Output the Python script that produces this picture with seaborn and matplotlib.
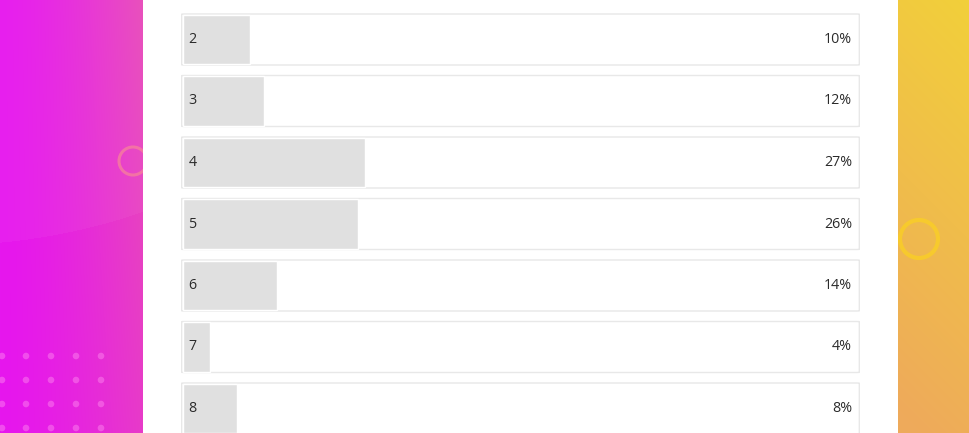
import numpy as np
import pandas as pd
import matplotlib
matplotlib.use("Agg")
import matplotlib.pyplot as plt
import seaborn as sns
from matplotlib.patches import FancyBboxPatch, Circle
from matplotlib.colors import to_rgb
import matplotlib.transforms as mtransforms

# ---- data ----
categories = ["2", "3", "4", "5", "6", "7", "8"]
percents = [10, 12, 27, 26, 14, 4, 8]
pct_labels = ["10%", "12%", "27%", "26%", "14%", "4%", "8%"]

W, H = 970, 433
DPI = 100
sns.set_theme(style="white")
plt.rcParams["font.family"] = ["Open Sans", "DejaVu Sans"]

fig = plt.figure(figsize=(W / DPI, H / DPI), dpi=DPI)

# ---- background ----
bg = fig.add_axes([0, 0, 1, 1])
bg.set_xlim(0, W)
bg.set_ylim(H, 0)
bg.axis("off")

yy, xx = np.mgrid[0:H, 0:W].astype(float)
img = np.ones((H, W, 3))

# left magenta strip
c0 = np.array(to_rgb("#e616ee"))
c1 = np.array(to_rgb("#e84ab9"))
t = np.clip(xx / 143.0, 0, 1) ** 1.4
t = t * (1 - 0.3 * (yy / H))
left = c0[None, None, :] * (1 - t[..., None]) + c1[None, None, :] * t[..., None]
ell = ((xx + 60) / 520.0) ** 2 + ((yy + 180) / 425.0) ** 2 < 1
left[ell] = left[ell] * 0.96 + 0.04
mask_l = xx < 143
img[mask_l] = left[mask_l]

# right yellow/orange strip
r0 = np.array(to_rgb("#f2d03a"))
r1 = np.array(to_rgb("#eeaa5b"))
tr = np.clip(yy / H * 0.9 + (1 - (xx - 898) / 72.0) * 0.15, 0, 1)
right = r0[None, None, :] * (1 - tr[..., None]) + r1[None, None, :] * tr[..., None]
mask_r = xx >= 898
img[mask_r] = right[mask_r]

bg.imshow(img, extent=(0, W, H, 0), aspect="auto", interpolation="bilinear", zorder=0)

# decorations
bg.add_patch(Circle((133, 161), 14, fill=False, ec="#f57aa0", lw=2.2, alpha=0.85, zorder=1))
bg.add_patch(Circle((919, 239), 19, fill=False, ec="#f8cc2a", lw=3, alpha=0.9, zorder=1))
for dx in [2, 26, 51, 76, 101]:
    for dy in [356, 380, 404, 428]:
        bg.add_patch(Circle((dx, dy), 3.3, fc="#ff8cf0", ec="none", alpha=0.45, zorder=1))

# white panel
bg.add_patch(plt.Rectangle((143, -5), 755, H + 10, fc="white", ec="none", zorder=2))

# ---- main bar axes ----
box_l, box_r = 181, 860
ax = fig.add_axes([box_l / W, 0, (box_r - box_l) / W, 1])
ax.patch.set_alpha(0)

df = pd.DataFrame({"answer": categories, "percent": percents})
sns.barplot(data=df, x="percent", y="answer", orient="h", color="#e0e0e0",
            saturation=1, width=0.80, ax=ax, zorder=3)

px_per_unit = 674 / 100.0
ax.set_xlim(-2 / px_per_unit, 100 + 3 / px_per_unit)
pitch = 61.5
ax.set_ylim((H - 39.5) / pitch, -39.5 / pitch)
ax.axis("off")

# row boxes (layout frames)
trans = mtransforms.blended_transform_factory(ax.transAxes, ax.transData)
box_h = 51 / pitch
for i in range(len(categories)):
    ax.add_patch(FancyBboxPatch((0.001, i - box_h / 2), 0.998, box_h,
                                boxstyle="round,pad=0,rounding_size=0.004",
                                transform=trans, fc="white", ec="#e8e8e8",
                                lw=1.0, zorder=1))

for i, (cat, lab) in enumerate(zip(categories, pct_labels)):
    ax.text((188.5 - box_l) / (box_r - box_l), i, cat,
            transform=trans, ha="left", va="center", fontsize=10.3, color="#2b2b2b", zorder=5)
    ax.text((852 - box_l) / (box_r - box_l), i, lab, transform=trans,
            ha="right", va="center", fontsize=10.3, color="#2b2b2b", zorder=5)

fig.savefig("out.png", dpi=DPI)
